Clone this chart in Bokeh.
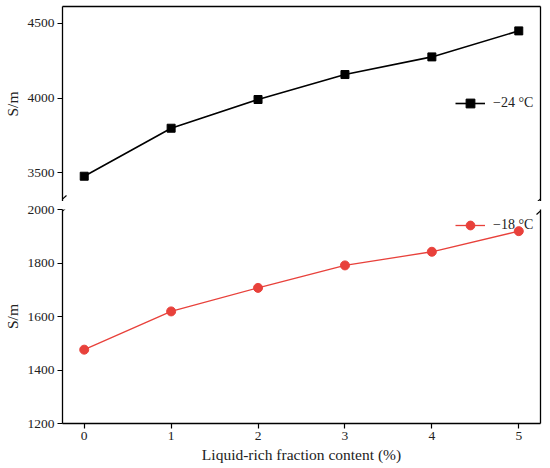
from bokeh.plotting import figure
from bokeh.layouts import column
from bokeh.models import LinearAxis, FixedTicker, Legend, LegendItem, Arrow
from bokeh.embed import file_html
from bokeh.resources import INLINE

x_vals = [0, 1, 2, 3, 4, 5]
cond_m24 = [3477, 3798, 3990, 4157, 4275, 4449]
cond_m18 = [1476, 1619, 1707, 1791, 1842, 1919]
label_m24 = "\u221224 \u00b0C"
label_m18 = "\u221218 \u00b0C"
top_ticks = [3500, 4000, 4500]
bottom_ticks = [1200, 1400, 1600, 1800, 2000]
x_ticks = [0, 1, 2, 3, 4, 5]
x_label = "Liquid-rich fraction content (%)"
y_label = "S/m"

FONT = "Liberation Serif"
RED = "#e8413b"
XR = (-0.25, 5.25)
TOP_YR = (3308, 4612)
BOT_YR = (1200, 2000)
FW = 478
TOP_FH = 195
BOT_FH = 214
GAP = 8


def style_axis(ax, label_standoff=2):
    ax.axis_line_color = "black"
    ax.axis_line_width = 1.3
    ax.major_tick_line_color = "black"
    ax.major_tick_line_width = 1.2
    ax.major_tick_out = 5
    ax.major_tick_in = 0
    ax.minor_tick_line_color = None
    ax.major_label_text_font = FONT
    ax.major_label_text_font_size = "13.5px"
    ax.major_label_text_color = "#222222"
    ax.major_label_standoff = 3
    ax.axis_label_text_font = FONT
    ax.axis_label_text_font_size = "15.5px"
    ax.axis_label_text_font_style = "normal"
    ax.axis_label_text_color = "#222222"
    ax.axis_label_standoff = label_standoff


def border_axis(ax):
    ax.ticker = FixedTicker(ticks=[])
    ax.axis_line_color = "black"
    ax.axis_line_width = 1.3
    ax.major_tick_line_color = None
    ax.minor_tick_line_color = None
    ax.major_label_text_font_size = "0px"
    ax.major_tick_out = 0
    ax.major_label_standoff = 0


def style_legend(leg):
    leg.border_line_color = None
    leg.background_fill_alpha = 0
    leg.padding = 0
    leg.margin = 0
    leg.glyph_width = 30
    leg.glyph_height = 22
    leg.label_standoff = 8
    leg.label_text_font = FONT
    leg.label_text_font_size = "14px"
    leg.label_text_color = "#222222"


xpx = (XR[1] - XR[0]) / FW

# ---------- top panel ----------
top = figure(frame_width=FW, frame_height=TOP_FH, x_range=XR, y_range=TOP_YR,
             output_backend="svg", toolbar_location=None,
             x_axis_location=None, y_axis_location="left",
             min_border_left=56, min_border_right=2, min_border_top=6, min_border_bottom=0)
top.outline_line_color = None
top.xgrid.visible = False
top.ygrid.visible = False
style_axis(top.yaxis[0], 4)
top.yaxis[0].ticker = FixedTicker(ticks=top_ticks)
top.yaxis[0].axis_label = y_label
ab = LinearAxis()
border_axis(ab)
top.add_layout(ab, "above")
rt = LinearAxis()
border_axis(rt)
top.add_layout(rt, "right")

l1 = top.line(x_vals, cond_m24, line_color="black", line_width=1.6)
s1 = top.scatter(x_vals, cond_m24, marker="square", size=8, fill_color="black", line_color="black")
leg1 = Legend(items=[LegendItem(label=label_m24, renderers=[l1, s1])], location=(393, 87))
style_legend(leg1)
top.add_layout(leg1, "center")

typx = (TOP_YR[1] - TOP_YR[0]) / TOP_FH
for xb in XR:
    top.add_layout(Arrow(start=None, end=None,
                         x_start=xb - 4 * xpx, y_start=TOP_YR[0] - 1 * typx,
                         x_end=xb + 4 * xpx, y_end=TOP_YR[0] + 6 * typx,
                         line_color="black", line_width=1.2))

# ---------- bottom panel ----------
bot = figure(frame_width=FW, frame_height=BOT_FH, x_range=XR, y_range=BOT_YR,
             output_backend="svg", toolbar_location=None,
             x_axis_location="below", y_axis_location="left",
             min_border_left=56, min_border_right=2, min_border_top=GAP, min_border_bottom=0)
bot.outline_line_color = None
bot.xgrid.visible = False
bot.ygrid.visible = False
style_axis(bot.yaxis[0], 4)
bot.yaxis[0].ticker = FixedTicker(ticks=bottom_ticks)
bot.yaxis[0].axis_label = y_label
style_axis(bot.xaxis[0], 3)
bot.xaxis[0].ticker = FixedTicker(ticks=x_ticks)
bot.xaxis[0].axis_label = x_label
rb = LinearAxis()
border_axis(rb)
bot.add_layout(rb, "right")

l2 = bot.line(x_vals, cond_m18, line_color=RED, line_width=1.3)
s2 = bot.scatter(x_vals, cond_m18, marker="circle", size=9, fill_color=RED, line_color=RED)
leg2 = Legend(items=[LegendItem(label=label_m18, renderers=[l2, s2])], location=(393, 187))
style_legend(leg2)
bot.add_layout(leg2, "center")

bypx = (BOT_YR[1] - BOT_YR[0]) / BOT_FH
for xb in XR:
    bot.add_layout(Arrow(start=None, end=None,
                         x_start=xb - 4 * xpx, y_start=BOT_YR[1] - 5 * bypx,
                         x_end=xb + 4 * xpx, y_end=BOT_YR[1] + 2 * bypx,
                         line_color="black", line_width=1.2))

page = column(top, bot, spacing=0)
open("out.html", "w").write(file_html(page, INLINE))
